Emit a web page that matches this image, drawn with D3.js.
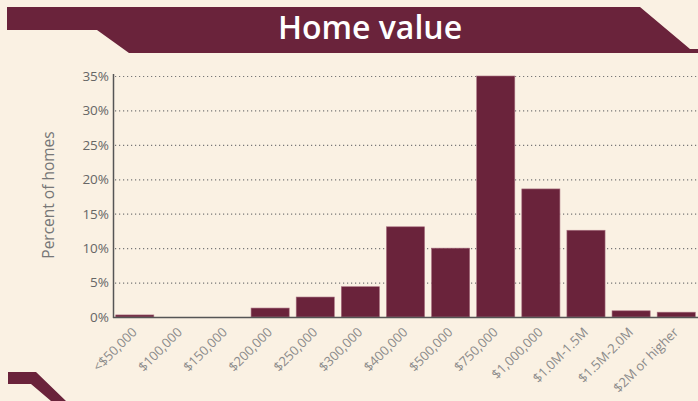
<!DOCTYPE html>
<html><head><meta charset="utf-8">
<script src="https://cdn.jsdelivr.net/npm/d3@7"></script>
<style>
html,body{margin:0;padding:0;background:#faf1e3;}
svg{display:block;}
</style></head>
<body>
<svg id="c" width="698" height="401"></svg>
<script>
const categories = ["<$50,000","$100,000","$150,000","$200,000","$250,000","$300,000","$400,000","$500,000","$750,000","$1,000,000","$1.0M-1.5M","$1.5M-2.0M","$2M or higher"];
const values = [0.3, 0, 0, 1.3, 2.9, 4.4, 13.1, 10.0, 35.0, 18.6, 12.6, 0.9, 0.7];
const yTicks = [0,5,10,15,20,25,30,35];
const title = "Home value";
const yTitle = "Percent of homes";

const svg = d3.select("#c");
const W = 698, H = 401;
const dark = "#6a233b";
svg.append("rect").attr("width",W).attr("height",H).attr("fill","#faf1e3");

// banner
svg.append("path").attr("fill",dark)
  .attr("d","M7,7 L640,7 L690,49 L698,49 L698,53 L129,53 L97,30 L7,30 Z");
svg.append("text").attr("x",370).attr("y",39).attr("text-anchor","middle")
  .attr("fill","#fff").attr("font-family","Open Sans, sans-serif").attr("font-weight",600)
  .attr("font-size",32).text(title);
// bottom-left decoration
svg.append("path").attr("fill",dark)
  .attr("d","M8,372 L36,372 L66,401 L51,401 L31,384 L8,384 Z");

const x = d3.scaleBand().domain(categories).range([113,698]).paddingInner(0.155).paddingOuter(0.06);
const y = d3.scaleLinear().domain([0,35]).range([317,76]);

// grid
const grid = svg.append("g");
grid.selectAll("line").data(yTicks.filter(d=>d>0)).join("line")
  .attr("x1",115).attr("x2",698).attr("y1",d=>y(d)+0.5).attr("y2",d=>y(d)+0.5)
  .attr("stroke","#777").attr("stroke-width",1.2).attr("stroke-dasharray","1.2,2.8");

// y axis
const ya = svg.append("g").attr("transform","translate(113,0)")
  .call(d3.axisLeft(y).tickValues(yTicks).tickFormat(d=>d+"%").tickSize(0).tickPadding(4));
ya.select(".domain").remove();
ya.selectAll("text").attr("fill","#666").attr("font-family","Open Sans, sans-serif").attr("font-size",13.5);

// bars
svg.append("g").selectAll("rect").data(values).join("rect")
  .attr("x",(d,i)=>x(categories[i]))
  .attr("width",x.bandwidth())
  .attr("y",d=>y(d))
  .attr("height",d=>y(0)-y(d))
  .attr("fill",dark).attr("stroke","#a87080").attr("stroke-width",0.6);

// axis lines
svg.append("line").attr("x1",113.5).attr("x2",113.5).attr("y1",74).attr("y2",318).attr("stroke","#555").attr("stroke-width",1.5);
svg.append("line").attr("x1",113).attr("x2",698).attr("y1",317.5).attr("y2",317.5).attr("stroke","#555").attr("stroke-width",1.5);

// x labels
const xa = svg.append("g").attr("transform","translate(0,317)")
  .call(d3.axisBottom(x).tickSize(0).tickPadding(0));
xa.select(".domain").remove();
xa.selectAll("text").attr("fill","#8a8a8a").attr("font-family","Open Sans, sans-serif").attr("font-size",13)
  .attr("text-anchor","end").attr("dy",0)
  .attr("transform","translate(3,16) rotate(-45)");

// y title
svg.append("text").attr("transform","translate(54,195) rotate(-90)").attr("text-anchor","middle")
  .attr("fill","#777").attr("font-family","Open Sans, sans-serif").attr("font-size",15.5).text(yTitle);
</script>
</body></html>
